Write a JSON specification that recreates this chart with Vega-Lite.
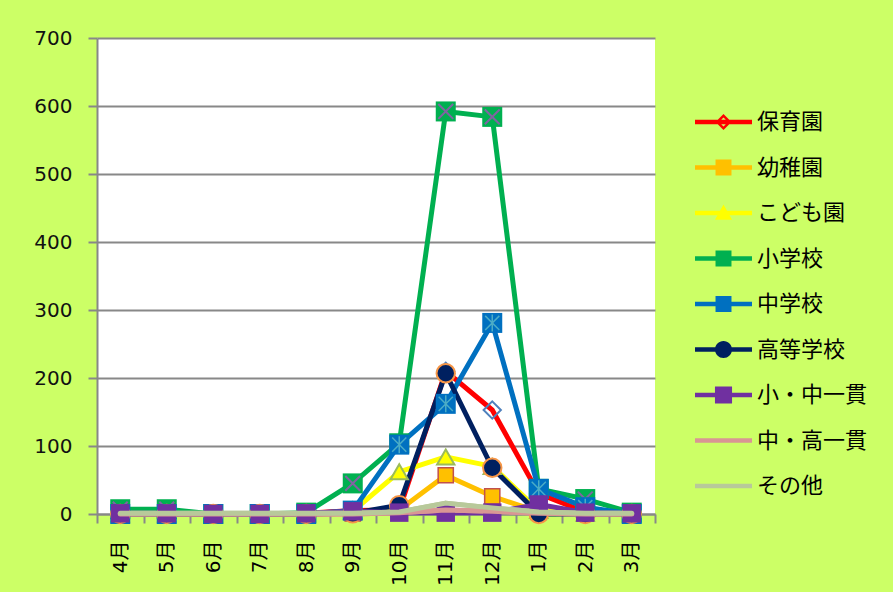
{
  "$schema": "https://vega.github.io/schema/vega-lite/v6.json",
  "width": 558,
  "height": 476,
  "autosize": {"type": "none"},
  "padding": {"left": 97, "top": 38, "right": 238, "bottom": 78},
  "background": "#CCFF66",
  "config": {
    "view": {"fill": "white", "stroke": null},
    "font": "DejaVu Sans"
  },
  "data": {
    "values": [
      {"series": "保育園", "month": "4月", "value": 0},
      {"series": "保育園", "month": "5月", "value": 0},
      {"series": "保育園", "month": "6月", "value": 0},
      {"series": "保育園", "month": "7月", "value": 0},
      {"series": "保育園", "month": "8月", "value": 1},
      {"series": "保育園", "month": "9月", "value": 5},
      {"series": "保育園", "month": "10月", "value": 6},
      {"series": "保育園", "month": "11月", "value": 210},
      {"series": "保育園", "month": "12月", "value": 153},
      {"series": "保育園", "month": "1月", "value": 30},
      {"series": "保育園", "month": "2月", "value": 3},
      {"series": "保育園", "month": "3月", "value": 0},
      {"series": "幼稚園", "month": "4月", "value": 0},
      {"series": "幼稚園", "month": "5月", "value": 0},
      {"series": "幼稚園", "month": "6月", "value": 0},
      {"series": "幼稚園", "month": "7月", "value": 0},
      {"series": "幼稚園", "month": "8月", "value": 0},
      {"series": "幼稚園", "month": "9月", "value": 1},
      {"series": "幼稚園", "month": "10月", "value": 6},
      {"series": "幼稚園", "month": "11月", "value": 57},
      {"series": "幼稚園", "month": "12月", "value": 26},
      {"series": "幼稚園", "month": "1月", "value": 3},
      {"series": "幼稚園", "month": "2月", "value": 1},
      {"series": "幼稚園", "month": "3月", "value": 0},
      {"series": "こども園", "month": "4月", "value": 0},
      {"series": "こども園", "month": "5月", "value": 0},
      {"series": "こども園", "month": "6月", "value": 0},
      {"series": "こども園", "month": "7月", "value": 0},
      {"series": "こども園", "month": "8月", "value": 0},
      {"series": "こども園", "month": "9月", "value": 4},
      {"series": "こども園", "month": "10月", "value": 62},
      {"series": "こども園", "month": "11月", "value": 84},
      {"series": "こども園", "month": "12月", "value": 70},
      {"series": "こども園", "month": "1月", "value": 5},
      {"series": "こども園", "month": "2月", "value": 1},
      {"series": "こども園", "month": "3月", "value": 0},
      {"series": "小学校", "month": "4月", "value": 7},
      {"series": "小学校", "month": "5月", "value": 7},
      {"series": "小学校", "month": "6月", "value": 0},
      {"series": "小学校", "month": "7月", "value": 0},
      {"series": "小学校", "month": "8月", "value": 2},
      {"series": "小学校", "month": "9月", "value": 45},
      {"series": "小学校", "month": "10月", "value": 104},
      {"series": "小学校", "month": "11月", "value": 592},
      {"series": "小学校", "month": "12月", "value": 584},
      {"series": "小学校", "month": "1月", "value": 37},
      {"series": "小学校", "month": "2月", "value": 22},
      {"series": "小学校", "month": "3月", "value": 2},
      {"series": "中学校", "month": "4月", "value": 0},
      {"series": "中学校", "month": "5月", "value": 0},
      {"series": "中学校", "month": "6月", "value": 0},
      {"series": "中学校", "month": "7月", "value": 0},
      {"series": "中学校", "month": "8月", "value": 0},
      {"series": "中学校", "month": "9月", "value": 5},
      {"series": "中学校", "month": "10月", "value": 102},
      {"series": "中学校", "month": "11月", "value": 162},
      {"series": "中学校", "month": "12月", "value": 281},
      {"series": "中学校", "month": "1月", "value": 37},
      {"series": "中学校", "month": "2月", "value": 10},
      {"series": "中学校", "month": "3月", "value": 0},
      {"series": "高等学校", "month": "4月", "value": 0},
      {"series": "高等学校", "month": "5月", "value": 0},
      {"series": "高等学校", "month": "6月", "value": 0},
      {"series": "高等学校", "month": "7月", "value": 0},
      {"series": "高等学校", "month": "8月", "value": 0},
      {"series": "高等学校", "month": "9月", "value": 1},
      {"series": "高等学校", "month": "10月", "value": 13},
      {"series": "高等学校", "month": "11月", "value": 207},
      {"series": "高等学校", "month": "12月", "value": 68},
      {"series": "高等学校", "month": "1月", "value": 0},
      {"series": "高等学校", "month": "2月", "value": 0},
      {"series": "高等学校", "month": "3月", "value": 0},
      {"series": "小・中一貫", "month": "4月", "value": 1},
      {"series": "小・中一貫", "month": "5月", "value": 1},
      {"series": "小・中一貫", "month": "6月", "value": 0},
      {"series": "小・中一貫", "month": "7月", "value": 0},
      {"series": "小・中一貫", "month": "8月", "value": 1},
      {"series": "小・中一貫", "month": "9月", "value": 4},
      {"series": "小・中一貫", "month": "10月", "value": 2},
      {"series": "小・中一貫", "month": "11月", "value": 2},
      {"series": "小・中一貫", "month": "12月", "value": 2},
      {"series": "小・中一貫", "month": "1月", "value": 14},
      {"series": "小・中一貫", "month": "2月", "value": 2},
      {"series": "小・中一貫", "month": "3月", "value": 1},
      {"series": "中・高一貫", "month": "4月", "value": 0},
      {"series": "中・高一貫", "month": "5月", "value": 0},
      {"series": "中・高一貫", "month": "6月", "value": 0},
      {"series": "中・高一貫", "month": "7月", "value": 0},
      {"series": "中・高一貫", "month": "8月", "value": 0},
      {"series": "中・高一貫", "month": "9月", "value": 0},
      {"series": "中・高一貫", "month": "10月", "value": 2},
      {"series": "中・高一貫", "month": "11月", "value": 6},
      {"series": "中・高一貫", "month": "12月", "value": 4},
      {"series": "中・高一貫", "month": "1月", "value": 1},
      {"series": "中・高一貫", "month": "2月", "value": 0},
      {"series": "中・高一貫", "month": "3月", "value": 0},
      {"series": "その他", "month": "4月", "value": 1},
      {"series": "その他", "month": "5月", "value": 1},
      {"series": "その他", "month": "6月", "value": 1},
      {"series": "その他", "month": "7月", "value": 1},
      {"series": "その他", "month": "8月", "value": 1},
      {"series": "その他", "month": "9月", "value": 1},
      {"series": "その他", "month": "10月", "value": 3},
      {"series": "その他", "month": "11月", "value": 16},
      {"series": "その他", "month": "12月", "value": 9},
      {"series": "その他", "month": "1月", "value": 3},
      {"series": "その他", "month": "2月", "value": 1},
      {"series": "その他", "month": "3月", "value": 1}
    ]
  },
  "encoding": {
    "x": {
      "field": "month",
      "type": "ordinal",
      "sort": ["4月", "5月", "6月", "7月", "8月", "9月", "10月", "11月", "12月", "1月", "2月", "3月"],
      "scale": {"type": "band", "paddingInner": 0, "paddingOuter": 0},
      "bandPosition": 0.5,
      "axis": {
        "title": null,
        "labelAngle": -90,
        "labelFontSize": 20,
        "labelFont": "DejaVu Sans, Noto Sans CJK JP",
        "labelColor": "#000000",
        "tickBand": "extent",
        "tickSize": 9,
        "tickColor": "#888888",
        "tickWidth": 2,
        "domainColor": "#888888",
        "domainWidth": 2,
        "labelPadding": 17,
        "grid": false
      }
    },
    "y": {
      "field": "value",
      "type": "quantitative",
      "scale": {"domain": [0, 700]},
      "axis": {
        "title": null,
        "values": [0, 100, 200, 300, 400, 500, 600, 700],
        "labelFontSize": 20,
        "labelFont": "DejaVu Sans",
        "labelColor": "#111111",
        "tickSize": 9,
        "tickColor": "#888888",
        "tickWidth": 2,
        "domainColor": "#888888",
        "domainWidth": 2,
        "grid": true,
        "gridColor": "#888888",
        "gridWidth": 2,
        "labelPadding": 16
      }
    }
  },
  "layer": [
    {
      "mark": {"type": "line", "strokeWidth": 5, "strokeJoin": "round", "strokeCap": "round"},
      "encoding": {
        "color": {
          "field": "series",
          "type": "nominal",
          "scale": {
            "domain": ["その他", "中・高一貫", "小・中一貫", "高等学校", "中学校", "小学校", "こども園", "幼稚園", "保育園"],
            "range": ["#B8C99A", "#D99694", "#7030A0", "#002060", "#0070C0", "#00B050", "#FFFF00", "#FFC000", "#FF0000"]
          },
          "legend": null
        }
      }
    },
    {
      "transform": [{"filter": {"field": "series", "equal": "保育園"}}],
      "mark": {"type": "point", "shape": "diamond", "filled": false, "stroke": "#4F81BD", "strokeWidth": 2, "size": 300, "opacity": 1}
    },
    {
      "transform": [{"filter": {"field": "series", "equal": "幼稚園"}}],
      "mark": {"type": "point", "shape": "square", "filled": true, "fill": "#FFC000", "stroke": "#C0504D", "strokeWidth": 1.5, "size": 230, "opacity": 1}
    },
    {
      "transform": [{"filter": {"field": "series", "equal": "こども園"}}],
      "mark": {"type": "point", "shape": "triangle-up", "filled": true, "fill": "#FFFF00", "stroke": "#9BBB59", "strokeWidth": 2, "size": 300, "opacity": 1}
    },
    {
      "transform": [{"filter": {"field": "series", "equal": "小学校"}}],
      "mark": {"type": "point", "shape": "square", "filled": true, "fill": "#00B050", "strokeWidth": 0, "size": 400, "opacity": 1}
    },
    {
      "transform": [{"filter": {"field": "series", "equal": "小学校"}}],
      "mark": {"type": "point", "shape": "M-1,-1L1,1M-1,1L1,-1", "filled": false, "stroke": "#8064A2", "strokeWidth": 2, "size": 220, "opacity": 1}
    },
    {
      "transform": [{"filter": {"field": "series", "equal": "中学校"}}],
      "mark": {"type": "point", "shape": "square", "filled": true, "fill": "#0070C0", "strokeWidth": 0, "size": 400, "opacity": 1}
    },
    {
      "transform": [{"filter": {"field": "series", "equal": "中学校"}}],
      "mark": {"type": "point", "shape": "M-1,-1L1,1M-1,1L1,-1M0,-1.2L0,1.2", "filled": false, "stroke": "#4BACC6", "strokeWidth": 1.5, "size": 200, "opacity": 1}
    },
    {
      "transform": [{"filter": {"field": "series", "equal": "高等学校"}}],
      "mark": {"type": "point", "shape": "circle", "filled": true, "fill": "#002060", "stroke": "#F79646", "strokeWidth": 2, "size": 340, "opacity": 1}
    },
    {
      "transform": [{"filter": {"field": "series", "equal": "小・中一貫"}}],
      "mark": {"type": "point", "shape": "square", "filled": true, "fill": "#7030A0", "strokeWidth": 0, "size": 340, "opacity": 1}
    },
    {
      "transform": [{"filter": {"field": "series", "oneOf": ["中・高一貫", "その他"]}}],
      "mark": {"type": "line", "strokeWidth": 5, "strokeJoin": "round", "strokeCap": "round"},
      "encoding": {
        "color": {
          "field": "series",
          "type": "nominal",
          "legend": null
        }
      }
    },
    {
      "mark": {"type": "point", "filled": true, "strokeWidth": 0, "opacity": 0},
      "encoding": {
        "fill": {
          "field": "series",
          "type": "nominal",
          "scale": {
            "domain": ["保育園", "幼稚園", "こども園", "小学校", "中学校", "高等学校", "小・中一貫", "中・高一貫", "その他"],
            "range": ["#FF0000", "#FFC000", "#FFFF00", "#00B050", "#0070C0", "#002060", "#7030A0", "#D99694", "#B8C99A"]
          },
          "legend": {
            "title": null,
            "orient": "none",
            "legendX": 598,
            "legendY": 55.5,
            "padding": 0,
            "symbolSize": 3249,
            "symbolStrokeWidth": 0,
            "symbolOpacity": 1,
            "labelFontSize": 22,
            "labelFont": "Noto Sans CJK JP",
            "labelColor": "#000000",
            "labelOffset": 5,
            "labelLimit": 200,
            "rowPadding": 5.5
          }
        },
        "shape": {
          "field": "series",
          "type": "nominal",
          "scale": {
            "domain": ["保育園", "幼稚園", "こども園", "小学校", "中学校", "高等学校", "小・中一貫", "中・高一貫", "その他"],
            "range": [
              "M-1,-0.08H1V0.08H-1Z M0,-0.28L0.28,0L0,0.28L-0.28,0Z M0,-0.16L-0.16,0L0,0.16L0.16,0Z",
              "M-1,-0.08H1V0.08H-1Z M-0.28,-0.28H0.28V0.28H-0.28Z",
              "M-1,-0.08H1V0.08H-1Z M0,-0.3L0.3,0.24L-0.3,0.24Z",
              "M-1,-0.08H1V0.08H-1Z M-0.28,-0.28H0.28V0.28H-0.28Z",
              "M-1,-0.08H1V0.08H-1Z M-0.28,-0.28H0.28V0.28H-0.28Z",
              "M-1,-0.08H1V0.08H-1Z M-0.3,0A0.3 0.3 0 1 1 0.3,0A0.3 0.3 0 1 1 -0.3,0Z",
              "M-1,-0.08H1V0.08H-1Z M-0.3,-0.3H0.3V0.3H-0.3Z",
              "M-1,-0.08H1V0.08H-1Z",
              "M-1,-0.08H1V0.08H-1Z"
            ]
          },
          "legend": {
            "title": null,
            "orient": "none",
            "legendX": 598,
            "legendY": 55.5,
            "padding": 0,
            "symbolSize": 3249,
            "symbolStrokeWidth": 0,
            "symbolOpacity": 1,
            "labelFontSize": 22,
            "labelFont": "Noto Sans CJK JP",
            "labelColor": "#000000",
            "labelOffset": 5,
            "labelLimit": 200,
            "rowPadding": 5.5
          }
        }
      }
    }
  ]
}
